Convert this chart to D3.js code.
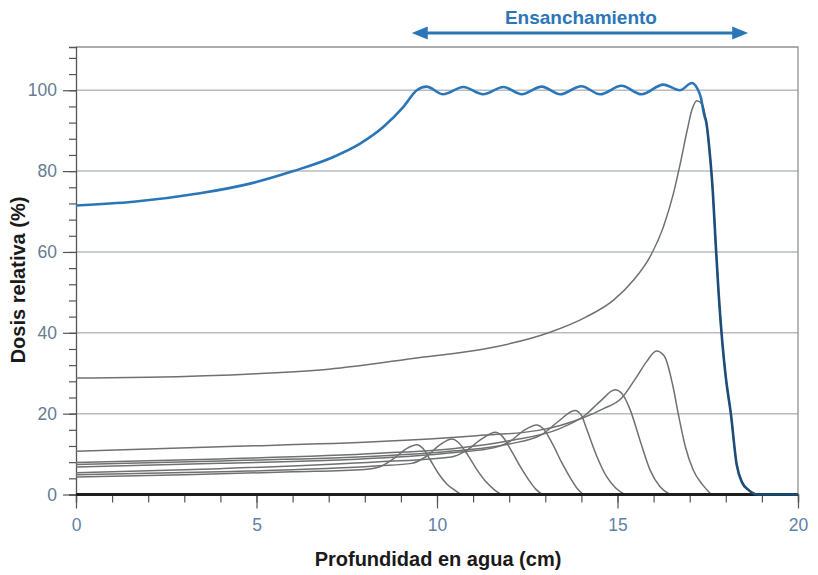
<!DOCTYPE html>
<html>
<head>
<meta charset="utf-8">
<script src="https://cdn.jsdelivr.net/npm/d3@7"></script>
<style>
  body { margin: 0; background: #fff; }
  svg text { font-family: "Liberation Sans", Arial, Helvetica, sans-serif; }
</style>
</head>
<body>
<div class="chart"></div>
<script>
// tick labels
var xTickValues = [0, 5, 10, 15, 20];
var yTickValues = [0, 20, 40, 60, 80, 100];

// spread-out Bragg peak (blue) : [depth cm, dose %]
var sobp = [[0,71.5],[1.59,72.4],[3.43,74.5],[4.82,76.9],[6.02,80],[7.13,83.5],[7.87,86.8],
  [8.51,90.9],[9.07,95.9],[9.44,100],[9.71,100.9],[10.17,99.0],[10.73,100.8],[11.28,99.0],
  [11.84,100.8],[12.35,99.0],[12.9,100.9],[13.41,99.0],[14.0,101.0],[14.52,99.0],[15.11,101.1],
  [15.67,99.0],[16.27,101.4],[16.73,100.0],[17.06,101.8],[17.2,100.6],[17.3,98.5],[17.4,94],
  [17.46,92],[17.56,84],[17.64,75],[17.72,62],[17.8,50],[17.9,38],[18.0,29],[18.14,20],
  [18.3,7.5],[18.45,3],[18.62,1.2],[18.86,0],[20,0]];

// single pristine peaks (gray)
var peakA = [[0,4.3],[3,4.9],[6,5.6],[8.0,6.2],[8.4,6.8],[8.8,8.9],[9.15,11.3],[9.44,12.3],
  [9.62,11.3],[9.81,8.6],[10.04,5.2],[10.27,2.6],[10.5,1.0],[10.66,0]];
var peakB = [[0,4.9],[4,5.6],[8.4,7.1],[9.3,7.7],[9.7,9.4],[10.1,12.4],[10.41,13.7],[10.6,12.8],
  [10.85,9.8],[11.1,6.2],[11.35,3.2],[11.6,1.1],[11.78,0]];
var peakC = [[0,5.4],[4,6.4],[8.4,8.1],[10.4,9.3],[10.8,10.8],[11.25,13.8],[11.61,15.4],[11.8,14.5],
  [12.05,11],[12.3,7],[12.55,3.5],[12.75,1.2],[12.92,0]];
var peakD = [[0,6.8],[4,7.7],[8.4,9.0],[10.5,10.4],[11.6,11.6],[12.0,13.0],[12.4,15.8],[12.76,17.2],
  [12.95,16.2],[13.2,12.5],[13.45,8],[13.7,4],[13.9,1.3],[14.05,0]];
var peakE = [[0,7.4],[4,8.3],[8.4,9.5],[10.5,10.8],[12,12.5],[12.9,14.8],[13.35,18.0],[13.82,20.8],
  [14.0,19.6],[14.14,16.3],[14.42,9.6],[14.7,4.4],[14.95,1.6],[15.2,0]];
var peakF = [[0,7.9],[4,8.8],[8.4,10.2],[10.5,11.4],[12,13.3],[13.4,16.3],[14.1,19.6],[14.55,23.3],
  [14.93,25.9],[15.12,25],[15.35,21],[15.62,13.5],[15.9,6.1],[16.18,1.9],[16.45,0]];
var peakG = [[0,10.7],[4,11.8],[8.4,13.1],[11,14.5],[12.76,15.8],[14.05,19.0],[14.6,21.2],
  [15.11,23.8],[15.53,29.1],[15.8,32.8],[16.08,35.5],[16.3,34.2],[16.54,26.6],[16.7,19.2],
  [16.88,11.8],[17.1,6],[17.35,2.5],[17.6,0]];
var peakH = [[0,28.8],[2,29.0],[5,29.9],[7,31.0],[9.53,33.9],[11.38,36.1],[13.09,40.0],[14.15,44.0],
  [14.89,48.1],[15.44,53.0],[15.9,58.8],[16.27,66.2],[16.55,74.5],[16.74,81.9],[16.93,90.1],
  [17.06,95.1],[17.2,97.4],[17.34,96.6],[17.46,92],[17.56,84],[17.64,75],[17.72,62],[17.8,50],
  [17.9,38],[18.0,29],[18.14,20],[18.3,7.5],[18.45,3],[18.62,1.2],[18.86,0]];
var baseLine = [[0,0],[20,0]];

var pristine = [peakA, peakB, peakC, peakD, peakE, peakF, peakG, peakH];

// range of the spread (arrow)
var spreadStart = 9.3, spreadEnd = 18.62;

var W = 818, H = 575;
var margin = { top: 47, right: 20, bottom: 80.5, left: 76 };

var x = d3.scaleLinear().domain([0, 20]).range([margin.left, W - margin.right]);
var y = d3.scaleLinear().domain([0, 110.7]).range([H - margin.bottom, margin.top]);

var svg = d3.select(".chart").append("svg")
  .attr("width", W)
  .attr("height", H);

var defs = svg.append("defs");
// blue turns dark where it falls with the last pristine peak
var grad = defs.append("linearGradient")
  .attr("id", "fall")
  .attr("gradientUnits", "userSpaceOnUse")
  .attr("x1", x(17.3)).attr("x2", x(17.5))
  .attr("y1", 0).attr("y2", 0);
grad.append("stop").attr("offset", 0).attr("stop-color", "#2a76b8");
grad.append("stop").attr("offset", 1).attr("stop-color", "#1d4d78");

// grid lines
svg.append("g")
  .selectAll("line")
  .data(yTickValues.filter(function(d) { return d > 0; }))
  .enter().append("line")
  .attr("x1", x(0)).attr("x2", x(20))
  .attr("y1", function(d) { return y(d); })
  .attr("y2", function(d) { return y(d); })
  .attr("stroke", "#b8bcc1")
  .attr("stroke-width", 1.5);

// frame top + right
svg.append("path")
  .attr("d", "M" + x(0) + "," + y(110.7) + "H" + x(20) + "V" + y(0))
  .attr("fill", "none")
  .attr("stroke", "#8e9194")
  .attr("stroke-width", 1.3);

// y axis
var yMinor = d3.range(0, 110, 4);
svg.append("g")
  .attr("transform", "translate(" + x(0) + ",0)")
  .call(d3.axisLeft(y).tickValues(yMinor).tickSize(7).tickFormat(""))
  .call(function(g) {
    g.select(".domain").attr("stroke", "#555").attr("stroke-width", 1.3);
    g.selectAll("line").attr("stroke", "#555").attr("stroke-width", 1.2);
  });
svg.append("g")
  .attr("transform", "translate(" + x(0) + ",0)")
  .call(d3.axisLeft(y).tickValues(yTickValues).tickSize(13).tickPadding(6))
  .call(function(g) {
    g.select(".domain").remove();
    g.selectAll("line").attr("stroke", "#555").attr("stroke-width", 1.2);
    g.selectAll("text")
      .attr("fill", "#667c93")
      .style("font-size", "17.5px");
  });

// x axis
svg.append("g")
  .attr("transform", "translate(0," + y(0) + ")")
  .call(d3.axisBottom(x).tickValues(d3.range(0, 21, 1)).tickSize(8).tickFormat(""))
  .call(function(g) {
    g.select(".domain").attr("stroke", "#444").attr("stroke-width", 1.3);
    g.selectAll("line").attr("stroke", "#555").attr("stroke-width", 1.2);
  });
svg.append("g")
  .attr("transform", "translate(0," + y(0) + ")")
  .call(d3.axisBottom(x).tickValues(xTickValues).tickSize(14).tickPadding(10))
  .call(function(g) {
    g.select(".domain").remove();
    g.selectAll("line").attr("stroke", "#555").attr("stroke-width", 1.2);
    g.selectAll("text")
      .attr("fill", "#5f81a6")
      .style("font-size", "17.5px");
  });

var line = d3.line()
  .x(function(d) { return x(d[0]); })
  .y(function(d) { return y(d[1]); })
  .curve(d3.curveMonotoneX);

// pristine peaks
svg.append("g")
  .selectAll("path")
  .data(pristine)
  .enter().append("path")
  .attr("d", line)
  .attr("fill", "none")
  .attr("stroke", "#6f7072")
  .attr("stroke-width", 1.5);

// zero dose line
svg.append("path")
  .attr("d", line(baseLine))
  .attr("fill", "none")
  .attr("stroke", "#1e1e1e")
  .attr("stroke-width", 2.8);

// SOBP
svg.append("path")
  .attr("d", line(sobp))
  .attr("fill", "none")
  .attr("stroke", "url(#fall)")
  .attr("stroke-width", 2.6);

// Ensanchamiento arrow
var arrowY = 33;
svg.append("line")
  .attr("x1", x(spreadStart) + 10).attr("x2", x(spreadEnd) - 10)
  .attr("y1", arrowY).attr("y2", arrowY)
  .attr("stroke", "#2a76b8")
  .attr("stroke-width", 3);
svg.append("path")
  .attr("d", "M" + x(spreadStart) + "," + arrowY + "l16,-6.5v13z")
  .attr("fill", "#2a76b8");
svg.append("path")
  .attr("d", "M" + x(spreadEnd) + "," + arrowY + "l-16,-6.5v13z")
  .attr("fill", "#2a76b8");
svg.append("text")
  .attr("x", (x(spreadStart) + x(spreadEnd)) / 2 + 1)
  .attr("y", 24)
  .attr("text-anchor", "middle")
  .attr("fill", "#2a76b8")
  .style("font-size", "19px")
  .style("font-weight", "bold")
  .text("Ensanchamiento");

// axis titles
svg.append("text")
  .attr("x", 438)
  .attr("y", 566)
  .attr("text-anchor", "middle")
  .attr("fill", "#1a1a1a")
  .style("font-size", "20px")
  .style("font-weight", "bold")
  .text("Profundidad en agua (cm)");

svg.append("text")
  .attr("transform", "translate(25,280) rotate(-90)")
  .attr("text-anchor", "middle")
  .attr("fill", "#1a1a1a")
  .style("font-size", "20px")
  .style("font-weight", "bold")
  .text("Dosis relativa (%)");
</script>
</body>
</html>
